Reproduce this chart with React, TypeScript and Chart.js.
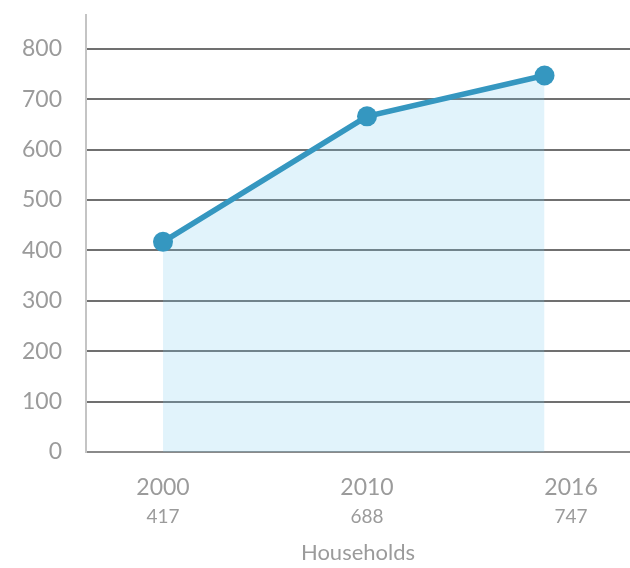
import React, { useEffect, useRef } from "react";
import { Chart, registerables } from "chart.js";

Chart.register(...registerables);

// ---- data ----
const years = ["2000", "2010", "2016"];
const householdLabels = ["417", "688", "747"];
const householdValues = [417, 666, 747];
// position of each point along the category axis (index units), as drawn
const pointSlots = [0, 1, 1.87];
const yTickValues = [0, 100, 200, 300, 400, 500, 600, 700, 800];
const axisTitle = "Households";

const FONT = "Lato, 'Open Sans', 'DejaVu Sans', sans-serif";
const TEXT = "#9b9b9b";
const LINE = "#3597c0";

const subLabelPlugin = {
  id: "subLabels",
  afterDraw(chart: any) {
    const xs = chart.scales.x;
    const ctx = chart.ctx;
    ctx.save();
    ctx.font = `19px ${FONT}`;
    ctx.fillStyle = TEXT;
    ctx.textAlign = "center";
    ctx.textBaseline = "alphabetic";
    householdLabels.forEach((lab, i) => {
      ctx.fillText(lab, xs.getPixelForValue(i), xs.top + 71);
    });
    ctx.restore();
  },
};

export default function App() {
  const ref = useRef<HTMLCanvasElement | null>(null);

  useEffect(() => {
    if (!ref.current) return;
    const chart = new Chart(ref.current, {
      type: "line",
      data: {
        datasets: [
          {
            data: householdValues.map((v, i) => ({ x: pointSlots[i], y: v })),
            borderColor: LINE,
            borderWidth: 5.5,
            backgroundColor: "rgba(120,200,235,0.22)",
            fill: "origin",
            pointRadius: 10,
            pointHoverRadius: 10,
            pointBorderWidth: 0,
            pointBackgroundColor: LINE,
            tension: 0,
          },
        ],
      },
      options: {
        responsive: false,
        animation: false,
        layout: { autoPadding: false, padding: { top: 15, right: 0, left: 0, bottom: 0 } },
        plugins: { legend: { display: false }, tooltip: { enabled: false } },
        scales: {
          x: {
            type: "linear",
            min: -0.3775,
            max: 2.289,
            afterBuildTicks: (s: any) => {
              s.ticks = years.map((_, i) => ({ value: i }));
            },
            afterFit: (s: any) => {
              s.height = 116;
              s.paddingLeft = 0;
              s.paddingRight = 0;
            },
            grid: { display: false, drawTicks: false },
            border: { display: true, color: "#8a8a8a", width: 2 },
            ticks: {
              padding: 22,
              color: TEXT,
              font: { family: FONT, size: 23 },
              maxRotation: 0,
              callback: (v: any) => years[v] ?? "",
            },
            title: {
              display: true,
              text: axisTitle,
              color: TEXT,
              font: { family: FONT, size: 22 },
              padding: { top: 0, bottom: 2 },
            },
          },
          y: {
            min: 0,
            max: 867,
            afterBuildTicks: (s: any) => {
              s.ticks = yTickValues.map((v) => ({ value: v }));
            },
            afterFit: (s: any) => {
              s.width = 86;
              s.paddingTop = 0;
              s.paddingBottom = 0;
            },
            grid: { color: "#707070", lineWidth: 2, drawTicks: false },
            border: { display: true, color: "#c4c4c4", width: 2 },
            ticks: {
              padding: 24,
              color: TEXT,
              font: { family: FONT, size: 23 },
            },
          },
        },
      },
      plugins: [subLabelPlugin],
    });
    return () => chart.destroy();
  }, []);

  return (
    <div style={{ position: "fixed", left: 0, top: 0, width: 630, height: 568, background: "#fff" }}>
      <canvas ref={ref} width={630} height={568} style={{ display: "block" }} />
    </div>
  );
}
